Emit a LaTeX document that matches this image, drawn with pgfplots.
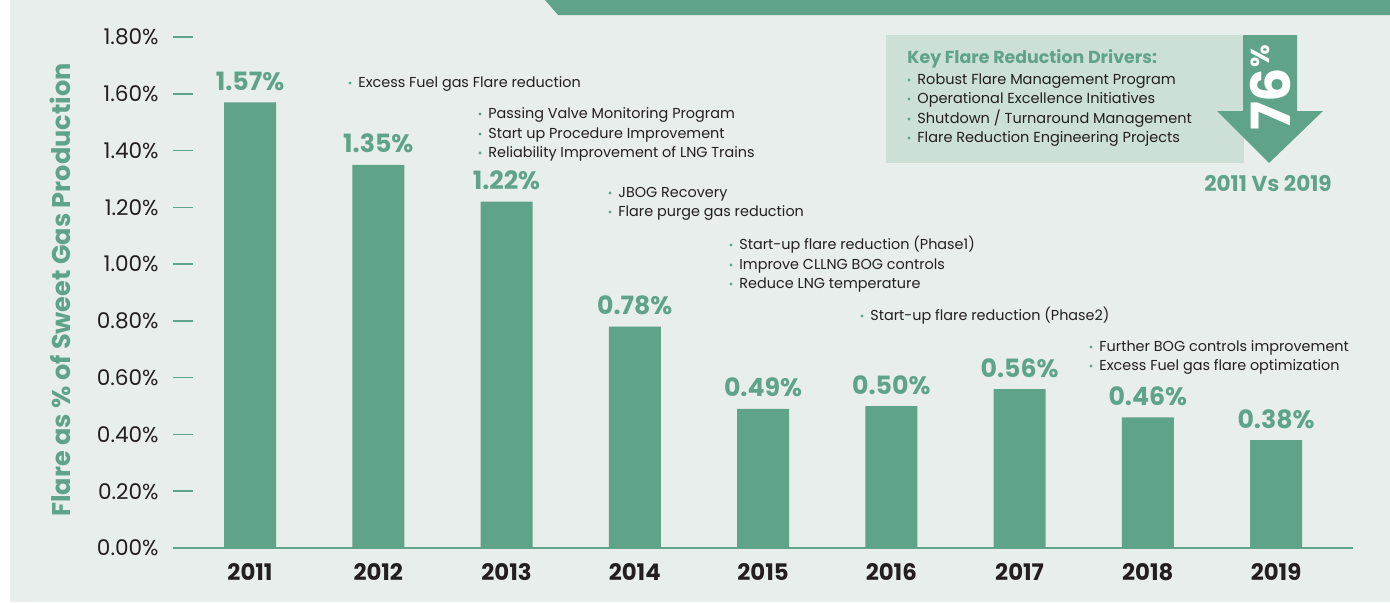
\documentclass[border=0pt]{standalone}
\usepackage{fontspec}
\setmainfont{Poppins}
\usepackage{graphicx}
\usepackage{pgfplots}
\pgfplotsset{compat=1.18}
\definecolor{barc}{HTML}{5FA38A}
\definecolor{bgc}{HTML}{E8EEEB}
\definecolor{boxc}{HTML}{CCE0D8}
\definecolor{txt}{HTML}{231F20}
\newcommand{\annfont}{\fontsize{7.2}{8}\selectfont}
\newcommand{\keyfont}{\fontsize{7.25}{8}\selectfont}
\newcommand{\bitem}[4][\annfont]{%
  \fill[barc] ({#2-8},{#3-4}) circle[radius=0.8pt];
  \node[anchor=base west, inner sep=0pt, font=#1, text=txt] at (#2,#3) {#4};
}
\begin{document}
\begin{tikzpicture}
\path[use as bounding box] (0,0) rectangle (695pt,301pt);
\fill[white] (0,0) rectangle (695pt,301pt);
\fill[bgc] (5pt,0) rectangle (695pt,301pt);
\begin{scope}[x=0.5pt,y=-0.5pt,yshift=301pt]
\fill[barc] (545,0) -- (1390,0) -- (1390,15) -- (558,15) -- cycle;
\fill[boxc] (886,35) rectangle (1244,163);
\fill[barc] (1243,35) -- (1297,35) -- (1297,111) -- (1323,111) -- (1269,163) -- (1217,111) -- (1243,111) -- cycle;
\end{scope}
\begin{axis}[
  at={(86.5pt,27pt)}, anchor=south west,
  scale only axis, width=590pt, height=255.5pt,
  xmin=-0.6004, xmax=8.600, ymin=0, ymax=1.8,
  ybar, bar width=26pt,
  axis line style={draw=none},
  xtick={0,1,2,3,4,5,6,7,8},
  xticklabels={2011,2012,2013,2014,2015,2016,2017,2018,2019},
  xtick style={draw=none},
  ytick={0,0.2,0.4,0.6,0.8,1.0,1.2,1.4,1.6,1.8},
  ytick style={draw=barc, line width=0.75pt},
  major tick length=10pt, tick align=inside,
  ytick pos=left, xtick pos=bottom,
  yticklabel={\pgfmathprintnumber[fixed,fixed zerofill,precision=2,assume math mode=true]{\tick}\%},
  yticklabel style={font=\fontsize{10.8}{12}\selectfont, text=txt, inner sep=0pt, xshift=-7pt},
  xticklabel style={font=\fontsize{11.4}{12}\selectfont\bfseries, text=txt, inner sep=0pt, yshift=-7.5pt},
  /pgf/number format/assume math mode=true,
  nodes near coords={\pgfmathprintnumber[fixed,fixed zerofill,precision=2,assume math mode=true]{\pgfplotspointmeta}\%},
  every node near coord/.append style={font=\fontsize{12.6}{13}\selectfont\bfseries, text=barc, anchor=base, yshift=6pt},
  clip=false,
]
\addplot[fill=barc, draw=none] coordinates {(0,1.57) (1,1.35) (2,1.22) (3,0.78) (4,0.49) (5,0.50) (6,0.56) (7,0.46) (8,0.38)};
\draw[barc, line width=0.8pt] (axis cs:-0.6004,0) -- (axis cs:8.6,0);
\end{axis}
\begin{scope}[x=0.5pt,y=-0.5pt,yshift=301pt]
\node[rotate=90, font=\fontsize{12.8}{14}\selectfont\bfseries, text=barc] at (60,290) {Flare as \% of Sweet Gas Production};
\bitem{358}{87}{Excess Fuel gas Flare reduction}
\bitem{488}{118}{Passing Valve Monitoring Program}
\bitem{488}{138}{Start up Procedure Improvement}
\bitem{488}{157}{Reliability Improvement of LNG Trains}
\bitem{618}{197}{JBOG Recovery}
\bitem{618}{216}{Flare purge gas reduction}
\bitem{739}{249}{Start-up flare reduction (Phase1)}
\bitem{739}{269}{Improve CLLNG BOG controls}
\bitem{739}{288}{Reduce LNG temperature}
\bitem{870}{320}{Start-up flare reduction (Phase2)}
\bitem{1099}{351}{Further BOG controls improvement}
\bitem{1099}{370}{Excess Fuel gas flare optimization}
\node[anchor=base west, inner sep=0pt, font=\fontsize{8.7}{9}\selectfont\bfseries, text=barc] at (907,63) {Key Flare Reduction Drivers:};
\bitem[\keyfont]{917}{84}{Robust Flare Management Program}
\bitem[\keyfont]{917}{103}{Operational Excellence Initiatives}
\bitem[\keyfont]{917}{123}{Shutdown / Turnaround Management}
\bitem[\keyfont]{917}{142}{Flare Reduction Engineering Projects}
\node[anchor=base, inner sep=0pt, font=\fontsize{10.8}{11}\selectfont\bfseries, text=barc] at (1268,191) {2011 Vs 2019};
\node[rotate=90, inner sep=0pt, text=white, font=\bfseries] at (1270,88) {\fontsize{27}{27}\selectfont 76\raisebox{0.38em}{\fontsize{13}{13}\selectfont\%}};
\end{scope}
\end{tikzpicture}
\end{document}
